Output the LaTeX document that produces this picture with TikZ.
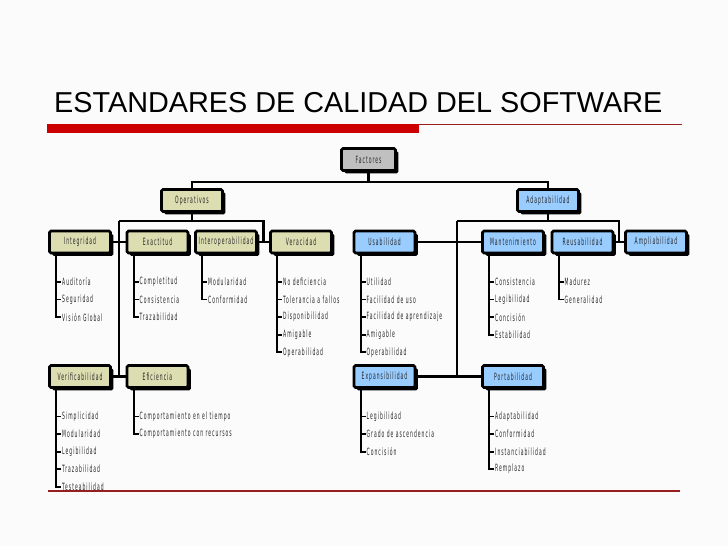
\documentclass[tikz,border=0pt]{standalone}
\usepackage{fontspec}
\newfontfamily\cajafont[FakeStretch=0.45,LetterSpace=10]{DejaVu Sans}
\newfontfamily\titulofont{Liberation Sans}
\usetikzlibrary{calc,shadows}
\definecolor{caqui}{RGB}{221,221,178}
\definecolor{celeste}{RGB}{153,204,255}
\definecolor{gris}{RGB}{192,192,192}
\definecolor{rojo}{RGB}{204,0,0}
\definecolor{granate}{RGB}{150,30,30}
\definecolor{fondo}{RGB}{251,251,251}

\begin{document}
\begin{tikzpicture}[x=1pt,y=-1pt,
    caja/.style={draw=black,line width=2.6pt,rounded corners=1.5pt,
        minimum width=61pt,minimum height=22pt,inner sep=0pt,
        font=\cajafont\fontsize{10}{11}\selectfont,text=black!85,
        drop shadow={shadow xshift=2.8pt,shadow yshift=-2.8pt,fill=black,opacity=1}},
    hoja/.style={anchor=west,inner sep=0.8pt,
        font=\cajafont\fontsize{10}{11}\selectfont,text=black!85},
    rama/.style={line width=1.8pt},
    conector/.style={line width=2.2pt}]
    \fill[fondo] (0,0) rectangle (728,546);
    \useasboundingbox (0,0) rectangle (728,546);

    % titulo
    \node[anchor=base west,inner sep=0pt,font=\titulofont\fontsize{28.8}{30}\selectfont] (titulo) at (54,112) {ESTANDARES DE CALIDAD DEL SOFTWARE};
    \fill[rojo] (47,124) rectangle (419,133);
    \draw[granate,line width=1pt] (419,124.5) -- (682,124.5);
    \draw[granate,line width=1.1pt] (48,491) -- (680,491);

    % cajas
    \node[caja,fill=gris,minimum width=54pt] (fac) at (368.5,159.5) {Factores};
    \node[caja,fill=caqui] (op) at (192,200.5) {Operativos};
    \node[caja,fill=celeste] (ad) at (548,200.5) {Adaptabilidad};

    \node[caja,fill=caqui] (integ) at (80,242) {Integridad};
    \node[caja,fill=caqui] (exact) at (157.5,242) {Exactitud};
    \node[caja,fill=caqui] (inter) at (226,242) {Interoperabilidad};
    \node[caja,fill=caqui] (verac) at (301,242) {Veracidad};
    \node[caja,fill=celeste] (usab) at (384.5,242) {Usabilidad};
    \node[caja,fill=celeste] (mant) at (513,242) {Mantenimiento};
    \node[caja,fill=celeste] (reus) at (582.5,242) {Reusabilidad};
    \node[caja,fill=celeste] (ampl) at (656,242) {Ampliabilidad};

    \node[caja,fill=caqui] (verif) at (80,376.5) {Verificabilidad};
    \node[caja,fill=caqui] (efic) at (157.5,376.5) {Eficiencia};
    \node[caja,fill=celeste] (expan) at (384.5,376.5) {Expansibilidad};
    \node[caja,fill=celeste] (port) at (513,376.5) {Portabilidad};

    % conectores
    \draw[conector] (fac.south) -- ++(0,10) coordinate (j0);
    \draw[conector] (op.north) -- (op.north |- j0) -- (ad.north |- j0) -- (ad.north);

    \draw[conector] (op.south) -- ++(0,8.5) coordinate (j1);
    \coordinate (ci) at ($(integ.east)!.5!(exact.west)$);
    \coordinate (cd) at ($(inter.east)!.5!(verac.west)$);
    \draw[conector] (ci |- j1) -- (cd |- j1) -- (cd);
    \draw[conector] (ci |- j1) -- (ci |- verif);
    \draw[conector] (integ) -- (exact);
    \draw[conector] (verif) -- (efic);
    \draw[conector] (inter) -- (verac);

    \draw[conector] (ad.south) -- ++(0,8.5) coordinate (j2);
    \coordinate (cu) at (457,242);
    \coordinate (ca) at ($(reus.east)!.5!(ampl.west)$);
    \draw[conector] (cu |- j2) -- (ca |- j2) -- (ca);
    \draw[conector] (cu |- j2) -- (cu |- expan);
    \draw[conector] (usab) -- (mant);
    \draw[conector] (expan) -- (port);
    \draw[conector] (reus) -- (ampl);

    % hojas
    \foreach \caja/\lista in {
        integ/{Auditoría,Seguridad,Visión Global},
        exact/{Completitud,Consistencia,Trazabilidad},
        inter/{Modularidad,Conformidad},
        verac/{No deficiencia,Tolerancia a fallos,Disponibilidad,Amigable,Operabilidad},
        usab/{Utilidad,Facilidad de uso,Facilidad de aprendizaje,Amigable,Operabilidad},
        mant/{Consistencia,Legibilidad,Concisión,Estabilidad},
        reus/{Madurez,Generalidad},
        verif/{Simplicidad,Modularidad,Legibilidad,Trazabilidad,Testeabilidad},
        efic/{Comportamiento en el tiempo,Comportamiento con recursos},
        expan/{Legibilidad,Grado de ascendencia,Concisión},
        port/{Adaptabilidad,Conformidad,Instanciabilidad,Remplazo}}
    {
        \coordinate (\caja-r) at ($(\caja.south west)+(8,0)$);
        \foreach \t [count=\i] in \lista {
            \node[hoja] (\caja-\i) at ($(\caja-r)+(5,10+17.6*\i)$) {\t};
            \draw[rama] (\caja-r) |- (\caja-\i.west);
        }
    }
\end{tikzpicture}
\end{document}
